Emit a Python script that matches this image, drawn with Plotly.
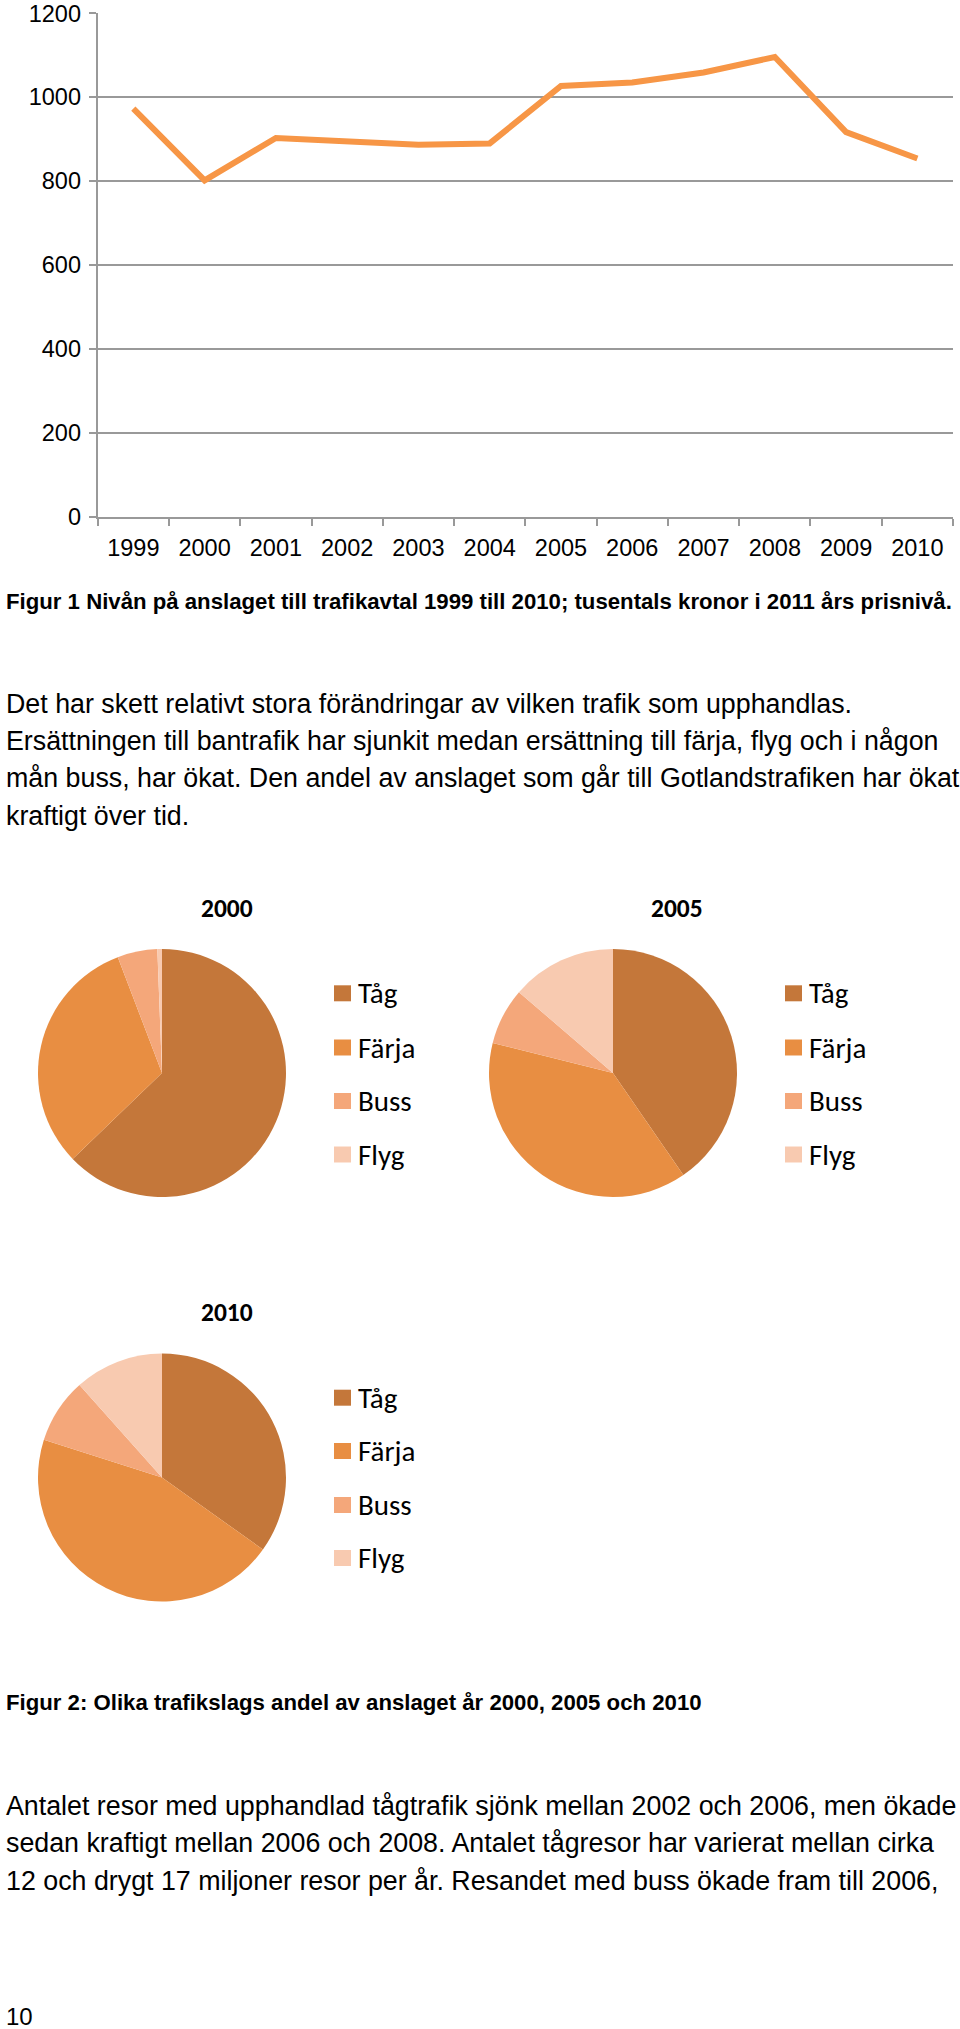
import plotly.graph_objects as go

# ---------------- data ----------------
years = ['1999', '2000', '2001', '2002', '2003', '2004',
         '2005', '2006', '2007', '2008', '2009', '2010']
anslag = [973, 802, 903, 896, 887, 890, 1027, 1035, 1059, 1096, 917, 854]
y_ticks = [0, 200, 400, 600, 800, 1000, 1200]

slag = ['Tåg', 'Färja', 'Buss', 'Flyg']
andel_2000 = [62.8, 31.4, 5.2, 0.6]
andel_2005 = [40.4, 38.5, 7.4, 13.7]
andel_2010 = [34.9, 45.1, 8.5, 11.6]

caption1 = "Figur 1 Nivån på anslaget till trafikavtal 1999 till 2010; tusentals kronor i 2011 års prisnivå."
para1 = ["Det har skett relativt stora förändringar av vilken trafik som upphandlas.",
         "Ersättningen till bantrafik har sjunkit medan ersättning till färja, flyg och i någon",
         "mån buss, har ökat. Den andel av anslaget som går till Gotlandstrafiken har ökat",
         "kraftigt över tid."]
caption2 = "Figur 2: Olika trafikslags andel av anslaget år 2000, 2005 och 2010"
para2 = ["Antalet resor med upphandlad tågtrafik sjönk mellan 2002 och 2006, men ökade",
         "sedan kraftigt mellan 2006 och 2008. Antalet tågresor har varierat mellan cirka",
         "12 och drygt 17 miljoner resor per år. Resandet med buss ökade fram till 2006,"]
page_no = "10"

# ---------------- style ----------------
W, H = 960, 2029
def px(x):
    return x / W
def py(y):
    return 1 - y / H

ARIAL = "Liberation Sans, Arial, sans-serif"
CALIBRI = "Carlito, Lato, sans-serif"
GRID = "#999999"
LINE = "#F79646"
pie_colors = ["#C4773A", "#E88E42", "#F4A77A", "#F8CAB0"]

fig = go.Figure()

# line chart
fig.add_trace(go.Scatter(x=years, y=anslag, mode='lines',
                         line=dict(color=LINE, width=6),
                         showlegend=False, xaxis='x', yaxis='y'))

fig.update_layout(
    xaxis=dict(domain=[px(97.7), px(953)], type='category',
               range=[-0.5, len(years) - 0.5], tickson='boundaries',
               ticks='outside', ticklen=7, tickwidth=2, tickcolor=GRID,
               showline=True, linecolor=GRID, linewidth=2, showgrid=False,
               tickfont=dict(family=ARIAL, size=23.5, color='black'),
               ticklabelstandoff=9, anchor='y', fixedrange=True,
               automargin=False),
    yaxis=dict(domain=[py(517), py(13.3)], range=[0, 1200],
               tickvals=y_ticks, ticks='outside', ticklen=7, tickwidth=2,
               tickcolor=GRID, showline=True, linecolor=GRID, linewidth=2,
               showgrid=True, gridcolor=GRID, gridwidth=2, zeroline=False,
               tickfont=dict(family=ARIAL, size=23.5, color='black'),
               ticklabelstandoff=3, anchor='x', fixedrange=True,
               automargin=False),
)

# pies
pies = [
    ('2000', andel_2000, 162, 1073, 227, 909, 334, 359, [993.3, 1047.5, 1101, 1154.5]),
    ('2005', andel_2005, 613, 1073, 677, 909, 785, 810, [993.3, 1047.5, 1101, 1154.5]),
    ('2010', andel_2010, 162, 1477.5, 227, 1313, 334, 359, [1397.7, 1451, 1505, 1558]),
]
R = 124
annotations = []
shapes = []
for title, vals, cx, cy, tx, ty, sqx, txx, rows in pies:
    fig.add_trace(go.Pie(labels=slag, values=vals, sort=False,
                         direction='clockwise', rotation=0,
                         marker=dict(colors=pie_colors, line=dict(width=0)),
                         textinfo='none', showlegend=False,
                         domain=dict(x=[px(cx - R), px(cx + R)],
                                     y=[py(cy + R), py(cy - R)])))
    annotations.append(dict(text="<b>%s</b>" % title, x=px(tx), y=py(ty - 1),
                            xref='paper', yref='paper', showarrow=False,
                            xanchor='center', yanchor='middle',
                            font=dict(family=CALIBRI, size=25.5, color='black')))
    for lab, col, ry in zip(slag, pie_colors, rows):
        shapes.append(dict(type='rect', xref='paper', yref='paper',
                           x0=px(sqx), x1=px(sqx + 17), y0=py(ry + 8), y1=py(ry - 8),
                           fillcolor=col, line=dict(width=0)))
        annotations.append(dict(text=lab, x=px(txx - 3), y=py(ry), xref='paper', yref='paper',
                                showarrow=False, xanchor='left', yanchor='middle',
                                font=dict(family=CALIBRI, size=29, color='black')))

def text_line(t, y, size=26.8, bold=False):
    return dict(text=("<b>%s</b>" % t) if bold else t, x=px(4), y=py(y),
                xref='paper', yref='paper', showarrow=False,
                xanchor='left', yanchor='middle',
                font=dict(family=ARIAL, size=size, color='black'))

annotations.append(text_line(caption1, 601.7, size=22.2, bold=True))
for t, y in zip(para1, [704, 741.3, 778, 816.3]):
    annotations.append(text_line(t, y))
annotations.append(text_line(caption2, 1702, size=22.2, bold=True))
for t, y in zip(para2, [1805.7, 1843, 1881]):
    annotations.append(text_line(t, y))
annotations.append(text_line(page_no, 2016.7, size=24))

fig.update_layout(width=W, height=H,
                  margin=dict(l=0, r=0, t=0, b=0, autoexpand=False),
                  paper_bgcolor='white', plot_bgcolor='white',
                  annotations=annotations, shapes=shapes,
                  showlegend=False)

fig.write_html("out.html")
